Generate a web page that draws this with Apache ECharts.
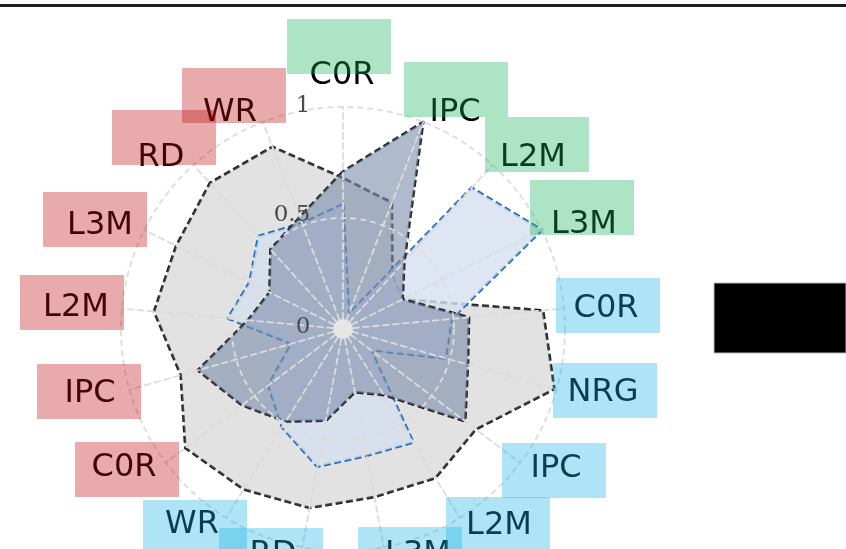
<!DOCTYPE html>
<html>
<head>
<meta charset="utf-8">
<script src="https://cdn.jsdelivr.net/npm/echarts@6/dist/echarts.min.js"></script>
<style>
  html, body { margin: 0; padding: 0; background: #ffffff; }
  #chart { width: 846px; height: 549px; }
</style>
</head>
<body>
<div id="chart"></div>
<script>
// Axis names, listed clockwise starting at the top.
const categories = ['C0R', 'IPC', 'L2M', 'L3M', 'C0R', 'NRG', 'IPC', 'L2M', 'L3M', 'RD', 'WR',
                    'C0R', 'IPC', 'L2M', 'L3M', 'RD', 'WR'];
// Group of each axis (g = green, c = cyan, r = red label box).
const groups = ['g', 'g', 'g', 'g', 'c', 'c', 'c', 'c', 'c', 'c', 'c', 'r', 'r', 'r', 'r', 'r', 'r'];

// Normalised profiles, same order as categories.
const outerProfile = [0.68, 0.61, 0.33, 0.30, 0.905, 0.99, 0.75, 0.79, 0.77, 0.82, 0.85, 0.89, 0.76, 0.855, 0.84, 0.89, 0.88];
const innerProfile = [0.71, 1.00, 0.41, 0.30, 0.57, 0.585, 0.69, 0.35, 0.29, 0.42, 0.49, 0.57, 0.68, 0.43, 0.37, 0.485, 0.54];
const blueProfile  = [0.56, 0.07, 0.86, 1.00, 0.49, 0.48, 0.155, 0.60, 0.58, 0.63, 0.52, 0.42, 0.24, 0.52, 0.47, 0.565, 0.51];

// Radial tick labels.
const radialTicks = ['0', '0.5', '1'];

// ---------------------------------------------------------------------------
// Layout / styling
const CENTER = [343, 329];
const RADIUS = 222;

const boxFill = {
  g: 'rgba(24,178,92,0.35)',
  c: 'rgba(24,178,226,0.35)',
  r: 'rgba(189,12,12,0.35)'
};
// Label text centre and box top-left corner for every axis name.
const labelLayout = [
  { t: [342, 74],    b: [287, 19] },
  { t: [455, 111],   b: [404, 62] },
  { t: [533, 156],   b: [485, 117] },
  { t: [584, 223],   b: [530, 180] },
  { t: [606, 307],   b: [556, 278] },
  { t: [603, 391],   b: [553, 363] },
  { t: [556, 467],   b: [502, 443] },
  { t: [499, 524],   b: [446, 497] },
  { t: [418, 553],   b: [358, 527] },
  { t: [273, 553],   b: [219, 528] },
  { t: [192, 523],   b: [143, 500] },
  { t: [124, 466],   b: [75, 442] },
  { t: [90, 392],    b: [37, 364] },
  { t: [76, 306],    b: [20, 275] },
  { t: [100, 224],   b: [43, 192] },
  { t: [161, 156],   b: [112, 110] },
  { t: [230, 111],   b: [182, 68] }
];
const radialTickPos = [[303, 327], [292, 215], [303, 106]];

// ECharts places radar indicators counter-clockwise, so feed them reversed
// (keeping the first one at the top) to obtain a clockwise layout.
const order = [0].concat(categories.map((_, i) => categories.length - 1 - i).slice(0, categories.length - 1));
const pick = arr => order.map(i => arr[i]);

const indicator = pick(categories).map(name => ({ name: name, min: 0, max: 1 }));

const gridLine = { color: '#dcdcdc', width: 1.8, type: [6, 4] };

const graphic = [];
// Frame line at the top
graphic.push({ type: 'rect', shape: { x: 0, y: 4, width: 846, height: 3 }, style: { fill: '#1e1e1e' }, z: 20 });
// Black block on the right
graphic.push({ type: 'rect', shape: { x: 714, y: 283, width: 132, height: 70 },
  style: { fill: '#000000', stroke: '#b8b8b8', lineWidth: 1 }, z: 20 });
// Hub where the spokes meet
graphic.push({ type: 'circle', shape: { cx: CENTER[0], cy: CENTER[1], r: 10 },
  style: { fill: '#e6e6e6' }, z: 9 });

categories.forEach((name, i) => {
  const L = labelLayout[i];
  graphic.push({
    type: 'text', z: 10,
    style: { text: name, x: L.t[0], y: L.t[1] + 2, fill: '#000000',
      font: '32px "DejaVu Sans"', align: 'center', verticalAlign: 'middle' }
  });
  graphic.push({
    type: 'rect', z: 11,
    shape: { x: L.b[0], y: L.b[1], width: 104, height: 55 },
    style: { fill: boxFill[groups[i]] }
  });
});

radialTicks.forEach((t, i) => {
  graphic.push({
    type: 'text', z: 12,
    style: { text: t, x: radialTickPos[i][0], y: radialTickPos[i][1], fill: '#4a4a4a',
      font: '23px "DejaVu Serif"', align: 'center', verticalAlign: 'middle' }
  });
});

const chart = echarts.init(document.getElementById('chart'), null, { renderer: 'canvas' });
chart.setOption({
  animation: false,
  backgroundColor: '#ffffff',
  radar: {
    z: 5,
    center: CENTER,
    radius: RADIUS,
    startAngle: 90,
    shape: 'circle',
    splitNumber: 2,
    indicator: indicator,
    axisName: { show: false },
    axisLine: { show: true, lineStyle: gridLine },
    splitLine: { show: true, lineStyle: gridLine },
    splitArea: { show: false },
    axisTick: { show: false },
    axisLabel: { show: false }
  },
  series: [
    {
      type: 'radar', symbol: 'none', z: 2,
      data: [{ value: pick(outerProfile) }],
      lineStyle: { color: '#232323', width: 2.7, type: [7, 3.5] },
      areaStyle: { color: 'rgba(160,160,160,0.3)', opacity: 1 }
    },
    {
      type: 'radar', symbol: 'none', z: 2,
      data: [{ value: pick(blueProfile) }],
      lineStyle: { color: '#1f6ab8', width: 3, type: [7, 3.5] },
      areaStyle: { color: 'rgba(215,224,240,0.8)', opacity: 1 }
    },
    {
      type: 'radar', symbol: 'none', z: 2,
      data: [{ value: pick(innerProfile) }],
      lineStyle: { color: '#232323', width: 2.7, type: [7, 3.5] },
      areaStyle: { color: 'rgba(123,140,172,0.6)', opacity: 1 }
    }
  ],
  graphic: graphic
});
</script>
</body>
</html>
